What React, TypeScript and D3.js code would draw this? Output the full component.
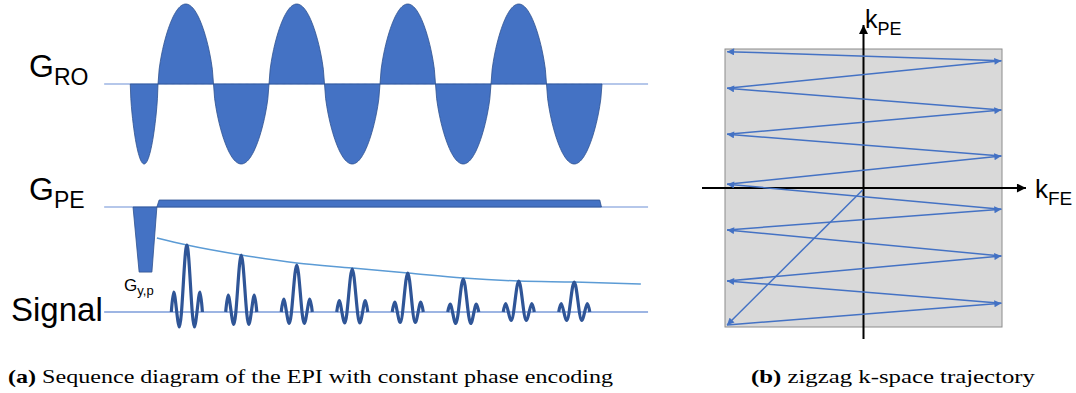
import React from 'react';
import * as d3 from 'd3';

const W = 1076;
const H = 393;

// ---- Sequence timing (units of one readout lobe) ----
const timeExtent = [-0.97, 8.83];

// Readout gradient lobes: start, end, normalized amplitude
const roLobeStarts = [-0.5, 0, 1, 2, 3, 4, 5, 6, 7];
const roLobeEnds = [0, 1, 2, 3, 4, 5, 6, 7, 8];
const roLobeAmps = [-1, 1, -1, 1, -1, 1, -1, 1, -1];

// Phase-encode gradient: [ramp-up start, plateau start, plateau end, ramp-down end]
const peBlipTimes = [-0.45, -0.34, -0.11, -0.02];
const peBlipAmp = -9.3;
const peConstTimes = [-0.02, 0.02, 7.96, 7.99];
const peConstAmp = 1;

// Echoes: centre time, peak, first negative lobe, first side lobe
const echoTimes = [0.52, 1.5, 2.5, 3.5, 4.5, 5.5, 6.5, 7.5];
const echoPeaks = [6.7, 5.7, 4.7, 4.3, 3.9, 3.3, 3.1, 3.0];
const echoTroughs = [-1.5, -1.25, -1.15, -1.1, -1.05, -1.15, -0.85, -0.85];
const echoSides = [2.0, 1.7, 1.3, 1.15, 1.0, 0.8, 0.85, 0.85];
const echoShapeOffsets = [-0.28, -0.235, -0.135, 0, 0.135, 0.235, 0.28];

// T2* decay envelope
const envTimes = [-0.02, 0.52, 1.5, 2.5, 3.5, 4.5, 5.5, 6.5, 7.5, 8.7];
const envValues = [7.4, 6.7, 5.7, 4.9, 4.4, 3.9, 3.4, 3.1, 3.0, 2.8];

// ---- k-space zigzag trajectory (kFE, kPE), normalized to [-1, 1] ----
const trajKFE = [-0.006, -0.985, 0.995, -0.985, 0.995, -0.985, 0.995, -0.985, 0.995, -0.985, 0.995, -0.985, 0.995, -0.985];
const trajKPE = [-0.014, -0.986, -0.829, -0.669, -0.489, -0.302, -0.153, 0.027, 0.23, 0.386, 0.561, 0.717, 0.916, 0.981];
const kAxisFE = [-1.166, 1.173];
const kAxisPE = [-1.086, 1.173];

const FILL = '#4472C4';
const EDGE = '#2F528F';
const BASE = '#9DB5E3';
const SANS = '"Liberation Sans", Arial, sans-serif';
const SERIF = '"Liberation Serif", "Times New Roman", serif';

export default function App() {
  const x = d3.scaleLinear().domain([0, 8]).range([158, 602]);
  const yRO = d3.scaleLinear().domain([-1, 1]).range([164, 4]);
  const yPE = d3.scaleLinear().domain([0, 1]).range([207, 200]);
  const ySig = d3.scaleLinear().domain([0, 1]).range([312, 302]);

  const kx = d3.scaleLinear().domain([-1, 1]).range([725, 1002]);
  const ky = d3.scaleLinear().domain([-1, 1]).range([327, 49]);

  // Readout lobes (rounded sinusoidal shape)
  const shapeU = d3.range(0, 1.0001, 1 / 48);
  const roArea = d3
    .area<number[]>()
    .x((d) => x(d[0]))
    .y0(yRO(0))
    .y1((d) => yRO(d[1]));
  const roPaths = roLobeStarts.map((s, i) => {
    const e = roLobeEnds[i];
    const pts = shapeU.map((u) => [s + (e - s) * u, roLobeAmps[i] * Math.pow(Math.sin(Math.PI * u), 0.62)]);
    return roArea(pts);
  });

  const trap = (t: number[], amp: number) => {
    const line = d3
      .line<number[]>()
      .x((d) => x(d[0]))
      .y((d) => yPE(d[1]));
    return line([
      [t[0], 0],
      [t[1], amp],
      [t[2], amp],
      [t[3], 0],
    ]) + 'Z';
  };

  const echoLine = d3
    .line<number[]>()
    .x((d) => x(d[0]))
    .y((d) => ySig(d[1]))
    .curve(d3.curveCatmullRom.alpha(0.5));
  const echoPaths = echoTimes.map((tc, i) => {
    const vals = [0, echoSides[i], echoTroughs[i], echoPeaks[i], echoTroughs[i], echoSides[i], 0];
    return echoLine(echoShapeOffsets.map((o, j) => [tc + o, vals[j]]));
  });

  const envLine = d3
    .line<number[]>()
    .x((d) => x(d[0]))
    .y((d) => ySig(d[1]))
    .curve(d3.curveMonotoneX);
  const envPath = envLine(envTimes.map((t, i) => [t, envValues[i]]));

  const kLine = d3
    .line<number[]>()
    .x((d) => kx(d[0]))
    .y((d) => ky(d[1]));
  const trajSegs = trajKFE.slice(1).map((_, i) =>
    kLine([
      [trajKFE[i], trajKPE[i]],
      [trajKFE[i + 1], trajKPE[i + 1]],
    ])
  );

  return (
    <svg
      width={W}
      height={H}
      viewBox={`0 0 ${W} ${H}`}
      style={{ position: 'absolute', left: 0, top: 0, display: 'block', background: '#fff' }}
    >
      <defs>
        <marker id="arrowBlue" viewBox="0 0 10 10" refX="10" refY="5" markerWidth="8" markerHeight="7" markerUnits="userSpaceOnUse" orient="auto">
          <path d="M0,0 L10,5 L0,10 Z" fill={FILL} />
        </marker>
        <marker id="arrowBlack" viewBox="0 0 10 10" refX="10" refY="5" markerWidth="10" markerHeight="9" markerUnits="userSpaceOnUse" orient="auto">
          <path d="M0,0 L10,5 L0,10 Z" fill="#000" />
        </marker>
      </defs>

      {/* ---------- (a) sequence diagram ---------- */}
      {/* baselines */}
      <line x1={x(timeExtent[0])} x2={x(timeExtent[1])} y1={yRO(0)} y2={yRO(0)} stroke={BASE} strokeWidth={1.3} />
      <line x1={x(timeExtent[0])} x2={x(timeExtent[1])} y1={yPE(0)} y2={yPE(0)} stroke={BASE} strokeWidth={1.6} />
      <line x1={x(timeExtent[0])} x2={x(timeExtent[1])} y1={ySig(0)} y2={ySig(0)} stroke={BASE} strokeWidth={1.8} />

      {/* readout gradient */}
      {roPaths.map((p, i) => (
        <path key={i} d={p || ''} fill={FILL} stroke={EDGE} strokeWidth={0.8} />
      ))}

      {/* phase-encode gradient */}
      <path d={trap(peBlipTimes, peBlipAmp)} fill={FILL} stroke={EDGE} strokeWidth={0.8} />
      <path d={trap(peConstTimes, peConstAmp)} fill={FILL} stroke={EDGE} strokeWidth={0.8} />

      {/* decay envelope and echoes */}
      <path d={envPath || ''} fill="none" stroke="#5B9BD5" strokeWidth={1.5} />
      {echoPaths.map((p, i) => (
        <path key={i} d={p || ''} fill="none" stroke="#2F5597" strokeWidth={3.2} strokeLinejoin="round" />
      ))}

      {/* labels */}
      <text x={29} y={77} fontFamily={SANS} fontSize={32} fill="#000">
        G<tspan fontSize={23} dy={8}>RO</tspan>
      </text>
      <text x={29} y={200} fontFamily={SANS} fontSize={32} fill="#000">
        G<tspan fontSize={23} dy={8}>PE</tspan>
      </text>
      <text x={11} y={321} fontFamily={SANS} fontSize={33} fill="#000">
        Signal
      </text>
      <text x={124} y={291} fontFamily={SANS} fontSize={17} fill="#000">
        G<tspan fontSize={13} dy={4}>y,p</tspan>
      </text>

      {/* ---------- (b) k-space ---------- */}
      <rect x={kx(-1)} y={ky(1)} width={kx(1) - kx(-1)} height={ky(-1) - ky(1)} fill="#D9D9D9" stroke="#8C8C8C" strokeWidth={1} />
      <line x1={kx(kAxisFE[0])} x2={kx(kAxisFE[1])} y1={ky(0)} y2={ky(0)} stroke="#000" strokeWidth={2} markerEnd="url(#arrowBlack)" />
      <line x1={kx(0)} x2={kx(0)} y1={ky(kAxisPE[0])} y2={ky(kAxisPE[1])} stroke="#000" strokeWidth={2} markerEnd="url(#arrowBlack)" />
      {trajSegs.map((p, i) => (
        <path key={i} d={p || ''} fill="none" stroke={FILL} strokeWidth={1.5} markerEnd="url(#arrowBlue)" />
      ))}
      <text x={865} y={28} fontFamily={SANS} fontSize={25} fill="#000">
        k<tspan fontSize={18} dy={7}>PE</tspan>
      </text>
      <text x={1035} y={198} fontFamily={SANS} fontSize={26} fill="#000">
        k<tspan fontSize={19} dy={7}>FE</tspan>
      </text>

      {/* captions */}
      <text x={8} y={383} fontFamily={SERIF} fontSize={19} fill="#000" textLength={605} lengthAdjust="spacingAndGlyphs">
        <tspan fontWeight={700}>(a)</tspan> Sequence diagram of the EPI with constant phase encoding
      </text>
      <text x={751} y={383} fontFamily={SERIF} fontSize={19} fill="#000" textLength={284} lengthAdjust="spacingAndGlyphs">
        <tspan fontWeight={700}>(b)</tspan> zigzag k-space trajectory
      </text>
    </svg>
  );
}
